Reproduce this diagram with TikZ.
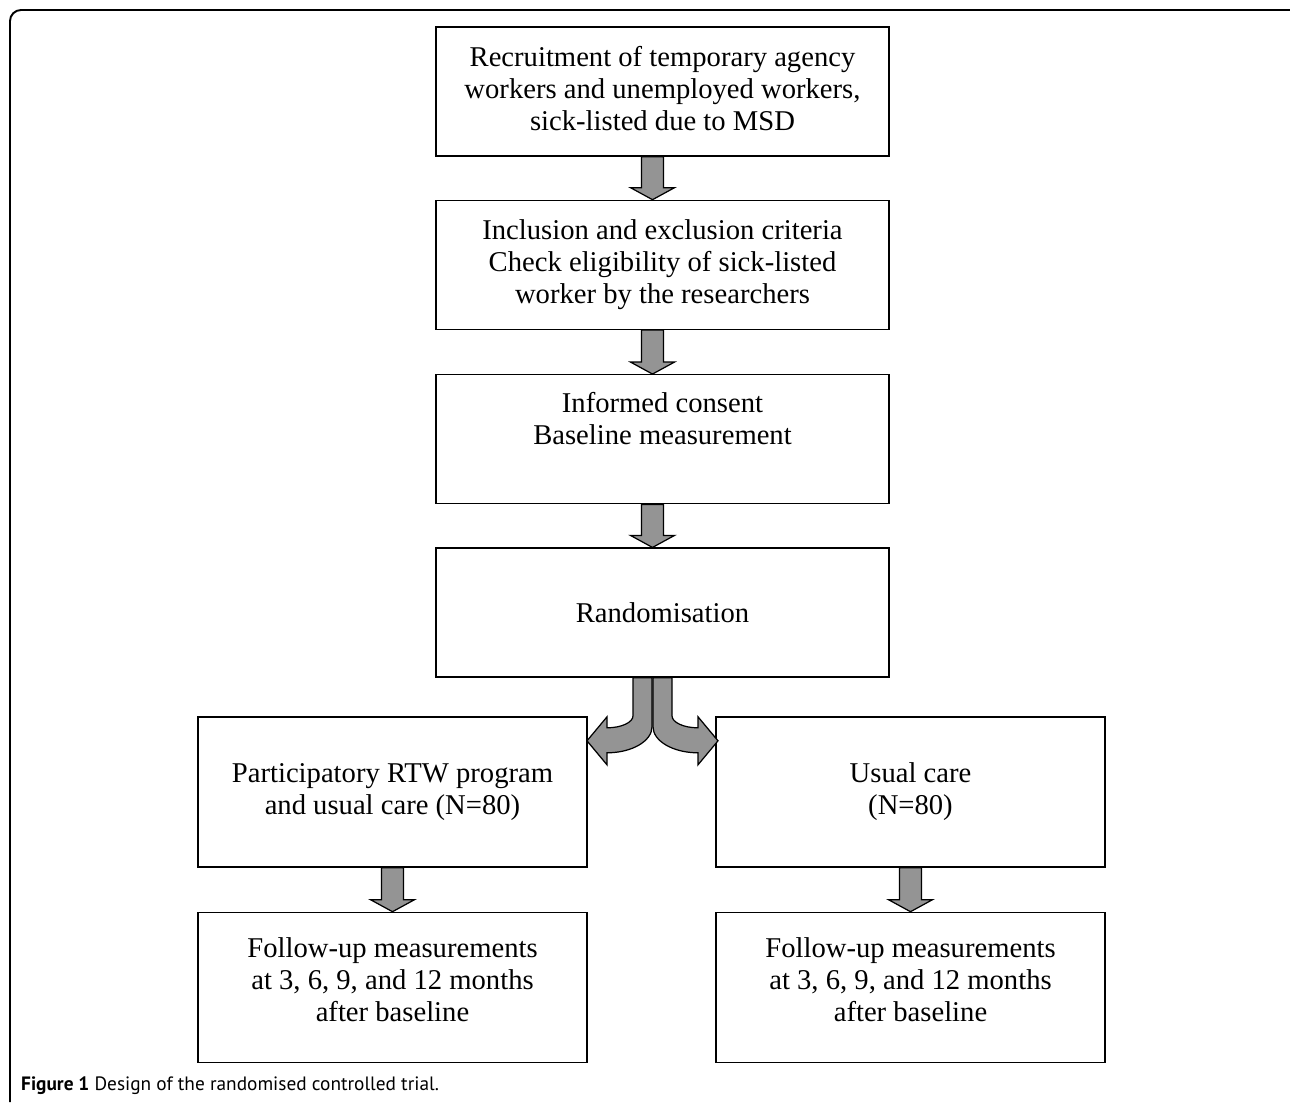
\documentclass[tikz,border=0pt]{standalone}
\usepackage{fontspec}
\setmainfont{Liberation Serif}
\newfontfamily\capfont{PT Sans}
\usetikzlibrary{positioning, calc}

\begin{document}
\begin{tikzpicture}[
    x=0.02cm, y=-0.02cm,
    font=\fontsize{16.3pt}{18.2pt}\selectfont,
    node distance=0.86cm,
    % Box Styles
    stage/.style={
        rectangle, draw=black, line width=0.8pt, align=center,
        minimum width=9.06cm, minimum height=2.58cm, inner sep=4pt
    },
    arm/.style={stage, minimum width=7.78cm, minimum height=3.0cm},
    % Arrow Style
    blockArrow/.style={fill=black!42, draw=black, line width=0.7pt, line join=miter},
    frameLine/.style={line width=1.1pt, rounded corners=0.22cm}
]
    \useasboundingbox (0,0) rectangle (1290,1102);

    % --- FRAME ---
    \draw[frameLine] (10,1102) -- (10,10) -- (1290,10);

    % --- MAIN COLUMN ---
    \node[stage, text depth=4pt] (recruit) at (662.5,91.5)
        {Recruitment of temporary agency\\workers and unemployed workers,\\sick-listed due to MSD};
    \node[stage, below=of recruit] (criteria)
        {Inclusion and exclusion criteria\\Check eligibility of sick-listed\\worker by the researchers};
    \node[stage, below=0.88cm of criteria, text depth=24pt] (consent)
        {Informed consent\\Baseline measurement};
    \node[stage, below=of consent] (random) {Randomisation};

    % --- ARMS ---
    \node[arm] (program) at (392.5,792)
        {Participatory RTW program\\and usual care (N=80)};
    \node[arm] (usual) at (910.5,792)
        {Usual care\\(N=80)};
    \node[arm, below=0.88cm of program, text depth=9pt] (followA)
        {Follow-up measurements\\at 3, 6, 9, and 12 months\\after baseline};
    \node[arm, below=0.88cm of usual, text depth=9pt] (followB)
        {Follow-up measurements\\at 3, 6, 9, and 12 months\\after baseline};

    % --- ARROWS ---
    \foreach \a/\b/\dx in {recruit/criteria/-10, criteria/consent/-10, consent/random/-10,
                           program/followA/0, usual/followB/0} {
        \draw[blockArrow] ($(\a.south)+(\dx-11,0)$) -- ($(\b.north)+(\dx-11,-12)$)
            -- ($(\b.north)+(\dx-22,-12)$) -- ($(\b.north)+(\dx,0)$)
            -- ($(\b.north)+(\dx+22,-12)$) -- ($(\b.north)+(\dx+11,-12)$)
            -- ($(\a.south)+(\dx+11,0)$) -- cycle;
    }

    % Split after randomisation
    \coordinate (split) at ($(random.south)+(-10,0)$);
    \foreach \s in {-1,1} {
        \draw[blockArrow, shift={(split)}, xscale=\s]
            (-19.5,0) -- (-19.5,38) .. controls (-19.5,44.6) and (-31.2,50) .. (-45.5,50)
            -- (-45.5,39) -- (-65.5,63) -- (-45.5,87) -- (-45.5,75)
            .. controls (-20.75,75) and (-0.5,63.3) .. (-0.5,49) -- (-0.5,0) -- cycle;
    }

    % --- CAPTION ---
    \node[anchor=base west, font=\capfont\fontsize{11pt}{13pt}\selectfont] (caption) at (15,1090)
        {\textbf{Figure 1} Design of the randomised controlled trial.};

\end{tikzpicture}
\end{document}
